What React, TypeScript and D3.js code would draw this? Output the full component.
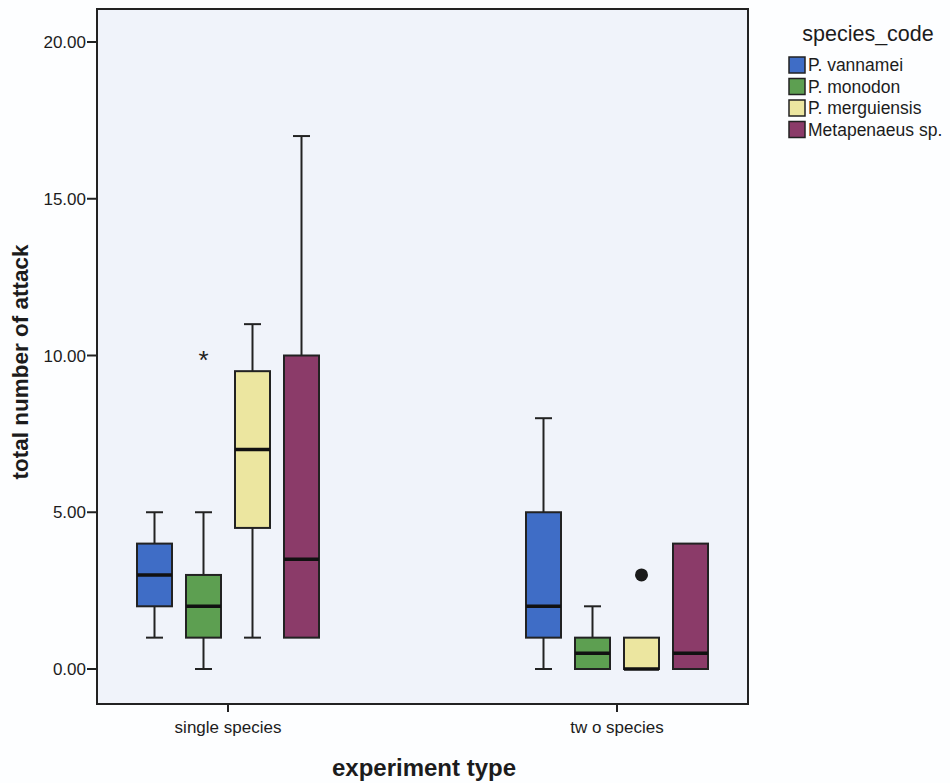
import React from "react";
import * as d3 from "d3";

// Experiment groups and species
const experimentTypes = ["single species", "two species"];
const speciesNames = ["P. vannamei", "P. monodon", "P. merguiensis", "Metapenaeus sp."];
const speciesColors = ["#3f6dc6", "#5d9f51", "#ece6a0", "#8b3b69"];

// Box statistics per group, in species order: [lowWhisker, q1, median, q3, highWhisker]
const singleSpeciesStats = [
  [1, 2, 3, 4, 5],
  [0, 1, 2, 3, 5],
  [1, 4.5, 7, 9.5, 11],
  [1, 1, 3.5, 10, 17],
];
const twoSpeciesStats = [
  [0, 1, 2, 5, 8],
  [0, 0, 0.5, 1, 2],
  [0, 0, 0, 1, 1],
  [0, 0, 0.5, 4, 4],
];

// Outlying cases: [groupIndex, speciesIndex, value, kind]
const outliers: [number, number, number, "extreme" | "outlier"][] = [
  [0, 1, 10, "extreme"],
  [1, 2, 3, "outlier"],
];

const yTicks = [0, 5, 10, 15, 20];

export default function App() {
  const width = 950;
  const height = 783;
  const plot = { left: 97, right: 748, top: 9, bottom: 704 };

  const y = d3.scaleLinear().domain([0, 20]).range([669, 42]);
  const xGroup = d3.scalePoint<string>().domain(experimentTypes).range([228, 617]);
  const xSpecies = d3
    .scaleBand<string>()
    .domain(speciesNames)
    .range([-98, 98])
    .paddingInner(0.3)
    .paddingOuter(0.15);

  const groups = [singleSpeciesStats, twoSpeciesStats];
  const boxW = 35;
  const capW = 17;
  const ink = "#222";

  const groupCenter = (g: string) => xGroup(g) ?? 0;
  const speciesCenter = (s: string) => (xSpecies(s) ?? 0) + xSpecies.bandwidth() / 2;

  return (
    <svg
      width={width}
      height={height}
      style={{ position: "absolute", left: 0, top: 0, background: "#fff" }}
      fontFamily="'Liberation Sans', Arial, sans-serif"
    >
      <rect x={0} y={0} width={width} height={height} fill="#fdfeff" />
      <rect
        x={plot.left}
        y={plot.top}
        width={plot.right - plot.left}
        height={plot.bottom - plot.top}
        fill="#f0f3fa"
        stroke={ink}
        strokeWidth={2}
      />

      {/* y axis ticks */}
      {yTicks.map((t) => (
        <g key={t}>
          <line x1={plot.left - 10} x2={plot.left} y1={y(t)} y2={y(t)} stroke={ink} strokeWidth={2} />
          <text
            x={plot.left - 11}
            y={y(t)}
            dy="0.36em"
            textAnchor="end"
            fontSize={17}
            fill="#1c1c1c"
          >
            {d3.format(".2f")(t)}
          </text>
        </g>
      ))}

      {/* x axis ticks */}
      {experimentTypes.map((g) => (
        <g key={g}>
          <line
            x1={groupCenter(g)}
            x2={groupCenter(g)}
            y1={plot.bottom}
            y2={plot.bottom + 8}
            stroke={ink}
            strokeWidth={2}
          />
          <text x={groupCenter(g)} y={733} textAnchor="middle" fontSize={17} fill="#1c1c1c">
            {g === "two species" ? "tw o species" : g}
          </text>
        </g>
      ))}

      {/* boxes */}
      {groups.map((stats, gi) =>
        stats.map((s, si) => {
          const cx = groupCenter(experimentTypes[gi]) + speciesCenter(speciesNames[si]);
          const [lo, q1, med, q3, hi] = s;
          return (
            <g key={`${gi}-${si}`}>
              {hi > q3 && (
                <>
                  <line x1={cx} x2={cx} y1={y(q3)} y2={y(hi)} stroke={ink} strokeWidth={2} />
                  <line x1={cx - capW / 2} x2={cx + capW / 2} y1={y(hi)} y2={y(hi)} stroke={ink} strokeWidth={2} />
                </>
              )}
              {lo < q1 && (
                <>
                  <line x1={cx} x2={cx} y1={y(q1)} y2={y(lo)} stroke={ink} strokeWidth={2} />
                  <line x1={cx - capW / 2} x2={cx + capW / 2} y1={y(lo)} y2={y(lo)} stroke={ink} strokeWidth={2} />
                </>
              )}
              <rect
                x={cx - boxW / 2}
                y={y(q3)}
                width={boxW}
                height={y(q1) - y(q3)}
                fill={speciesColors[si]}
                stroke={ink}
                strokeWidth={2}
              />
              <line
                x1={cx - boxW / 2}
                x2={cx + boxW / 2}
                y1={y(med)}
                y2={y(med)}
                stroke="#111"
                strokeWidth={3.5}
              />
            </g>
          );
        })
      )}

      {/* outlying cases */}
      {outliers.map(([gi, si, v, kind], i) => {
        const cx = groupCenter(experimentTypes[gi]) + speciesCenter(speciesNames[si]);
        return kind === "extreme" ? (
          <text key={i} x={cx} y={y(v) + 13} textAnchor="middle" fontSize={26} fill="#222">
            *
          </text>
        ) : (
          <circle key={i} cx={cx} cy={y(v)} r={6.5} fill="#1a1a1a" />
        );
      })}

      {/* axis titles */}
      <text
        transform={`translate(28,${362}) rotate(-90)`}
        textAnchor="middle"
        fontSize={22.5}
        fontWeight="bold"
        fill="#1c1c1c"
      >
        total number of attack
      </text>
      <text x={424} y={776} textAnchor="middle" fontSize={24} fontWeight="bold" fill="#1c1c1c">
        experiment type
      </text>

      {/* legend */}
      <text x={868} y={41} textAnchor="middle" fontSize={21.5} fill="#1c1c1c">
        species_code
      </text>
      {speciesNames.map((name, i) => (
        <g key={name} transform={`translate(789,${57 + i * 21.5})`}>
          <rect x={0} y={0} width={16} height={16} fill={speciesColors[i]} stroke={ink} strokeWidth={1.5} />
          <text x={19} y={14} fontSize={17.5} fill="#1c1c1c">
            {name}
          </text>
        </g>
      ))}
    </svg>
  );
}
